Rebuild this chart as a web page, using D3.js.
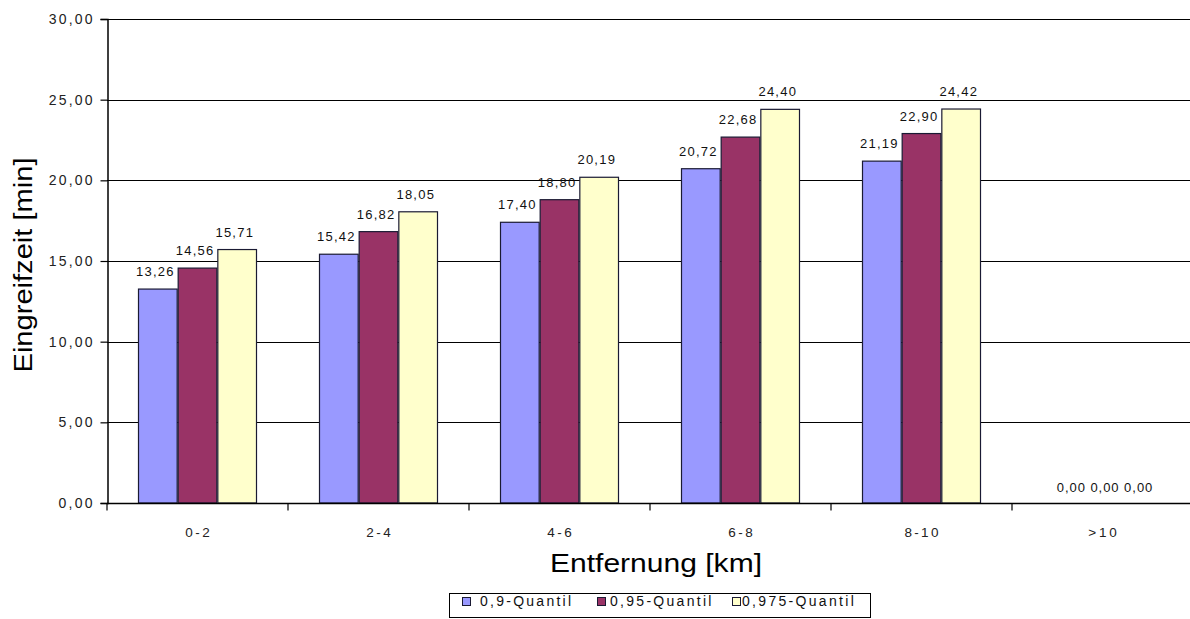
<!DOCTYPE html>
<html><head><meta charset="utf-8">
<script src="https://cdn.jsdelivr.net/npm/d3@7"></script>
<style>body{margin:0;background:#fff;} svg{display:block;font-family:"Liberation Sans",Arial,sans-serif;}</style>
</head><body>
<svg id="c" width="1190" height="619"></svg>
<script>
const categories = ["0-2","2-4","4-6","6-8","8-10",">10"];
const seriesNames = ["0,9-Quantil","0,95-Quantil","0,975-Quantil"];
const q90  = [13.26,15.42,17.40,20.72,21.19,0.00];
const q95  = [14.56,16.82,18.80,22.68,22.90,0.00];
const q975 = [15.71,18.05,20.19,24.40,24.42,0.00];
const yTicks = [0,5,10,15,20,25,30];
const colors = ["#9999FF","#993366","#FFFFCC"];

const series = [q90,q95,q975];
const svg = d3.select("#c");
const L=107, R=1193, T=19, B=503;
const x = d3.scaleBand().domain(categories).range([L,R]).paddingInner(0).paddingOuter(0);
const x1 = d3.scaleBand().domain(seriesNames).range([31, x.bandwidth()-31]).padding(0);
const y = d3.scaleLinear().domain([0,30]).range([B,T]);
const fmt = v => d3.format(".2f")(v).replace(".",",");

// widen text like the reference's wide rendering
function widen(sel, k, mode) {
  sel.each(function(){
    const w = this.getComputedTextLength();
    if (w > 0) d3.select(this).attr("textLength", w*k).attr("lengthAdjust", mode || "spacing");
  });
}

// gridlines
svg.append("g").selectAll("line").data(yTicks.filter(d=>d>0)).join("line")
  .attr("x1",L).attr("x2",R).attr("y1",d=>Math.round(y(d))+0.5).attr("y2",d=>Math.round(y(d))+0.5)
  .attr("stroke","#000").attr("stroke-width",1.2);

// bars
const g = svg.append("g");
categories.forEach((c,i)=>{
  seriesNames.forEach((s,j)=>{
    const v = series[j][i];
    const bx = x(c)+x1(s);
    g.append("rect").attr("x",bx+0.5).attr("y",y(v)).attr("width",x1.bandwidth()-1).attr("height",B-y(v))
      .attr("fill",colors[j]).attr("stroke","#1a1a33").attr("stroke-width",1.2);
  });
});
// labels
const lab = svg.append("g").attr("font-size",13).attr("fill","#111");
categories.forEach((c,i)=>{
  if (series.every(sr=>sr[i]===0)) {
    lab.append("text").attr("x",x(c)+x.bandwidth()/2+2).attr("y",B-11).attr("text-anchor","middle")
      .text(series.map(sr=>fmt(sr[i])).join(" "));
    return;
  }
  seriesNames.forEach((s,j)=>{
    const v = series[j][i];
    lab.append("text").attr("x",x(c)+x1(s)+x1.bandwidth()/2-3).attr("y",y(v)-13).attr("text-anchor","middle")
      .text(fmt(v));
  });
});
widen(lab.selectAll("text"), 1.15);

// y axis
const ya = svg.append("g").attr("transform",`translate(${L+0.5},0)`)
  .call(d3.axisLeft(y).tickValues(yTicks).tickSize(7).tickPadding(8).tickFormat(fmt));
ya.select(".domain").attr("stroke","#000").attr("stroke-width",1.5);
ya.selectAll("text").attr("font-size",14).attr("fill","#222").attr("font-family","Liberation Sans, Arial");
ya.selectAll("line").attr("stroke","#000").attr("stroke-width",1.2);
widen(ya.selectAll("text"), 1.25);

// x axis
const xa = svg.append("g").attr("transform",`translate(0,${B+0.5})`);
xa.append("line").attr("x1",L).attr("x2",R).attr("stroke","#000").attr("stroke-width",1.5);
xa.selectAll("line.t").data(categories).join("line").attr("class","t")
  .attr("x1",d=>x(d)+x.bandwidth()).attr("x2",d=>x(d)+x.bandwidth()).attr("y1",0).attr("y2",7)
  .attr("stroke","#000").attr("stroke-width",1.2);
xa.append("line").attr("x1",L).attr("x2",L).attr("y1",0).attr("y2",7).attr("stroke","#000").attr("stroke-width",1.2);
xa.selectAll("text").data(categories).join("text")
  .attr("x",d=>x(d)+x.bandwidth()/2).attr("y",33.5).attr("text-anchor","middle")
  .attr("font-size",13.5).attr("fill","#222").text(d=>d);
widen(xa.selectAll("text"), 1.25);

// axis titles
const xt = svg.append("text").attr("x",656).attr("y",572).attr("text-anchor","middle").attr("font-size",25).attr("fill","#000").text("Entfernung [km]");
xt.attr("textLength",212).attr("lengthAdjust","spacingAndGlyphs");
const yt = svg.append("text").attr("transform","translate(32,265) rotate(-90)").attr("text-anchor","middle").attr("font-size",26).attr("fill","#000").text("Eingreifzeit [min]");
yt.attr("textLength",215).attr("lengthAdjust","spacingAndGlyphs");

// legend
const lg = svg.append("g");
lg.append("rect").attr("x",449.5).attr("y",593.5).attr("width",421).attr("height",24).attr("fill","#fff").attr("stroke","#000").attr("stroke-width",1);
const lx = [462, 597, 732];
const lt = [480, 610, 742];
seriesNames.forEach((s,j)=>{
  lg.append("rect").attr("x",lx[j]+0.5).attr("y",597.5).attr("width",8).attr("height",8).attr("fill",colors[j]).attr("stroke","#1a1a33").attr("stroke-width",1);
  lg.append("text").attr("x",lt[j]).attr("y",606).attr("font-size",14).attr("fill","#111").text(s);
});
widen(lg.selectAll("text"), 1.33);
</script>
</body></html>
